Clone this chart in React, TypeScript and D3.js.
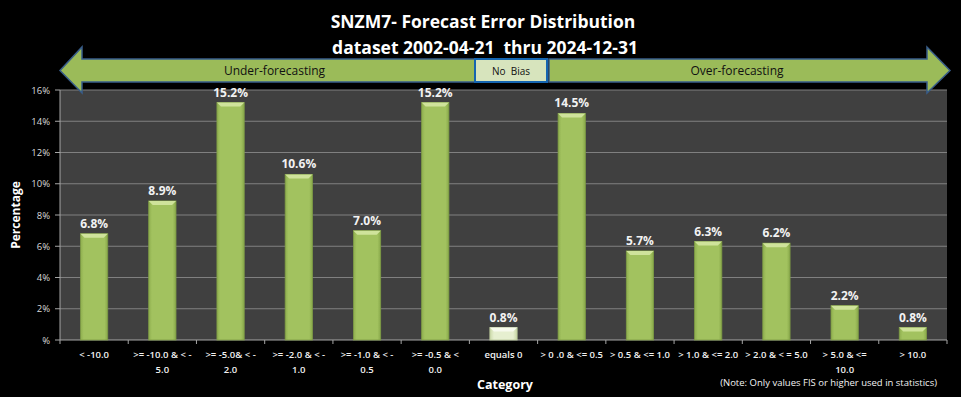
import React from "react";
import * as d3 from "d3";

const categoryLines: string[][] = [
  ["< -10.0"],
  [">= -10.0 & < -", "5.0"],
  [">= -5.0& < -", "2.0"],
  [">= -2.0 & < -", "1.0"],
  [">= -1.0 & < -", "0.5"],
  [">= -0.5 & <", "0.0"],
  ["equals 0"],
  ["> 0 .0 & <= 0.5"],
  ["> 0.5 & <= 1.0"],
  ["> 1.0 & <= 2.0"],
  ["> 2.0 & < = 5.0"],
  ["> 5.0 & <=", "10.0"],
  ["> 10.0"],
];
const percentValues: number[] = [6.8, 8.9, 15.2, 10.6, 7.0, 15.2, 0.8, 14.5, 5.7, 6.3, 6.2, 2.2, 0.8];
const yTicks: number[] = [0, 2, 4, 6, 8, 10, 12, 14, 16];
const titleLines: string[] = ["SNZM7- Forecast Error Distribution", "dataset 2002-04-21  thru 2024-12-31"];
const biasLabels: string[] = ["Under-forecasting", "No  Bias", "Over-forecasting"];
const noteText = "(Note: Only values FIS or higher used in statistics)";

const W = 961;
const H = 397;
const plot = { left: 60, right: 947, top: 90, bottom: 340 };
const FONT = "'Open Sans', 'Noto Sans', sans-serif";

export default function App() {
  const idx = categoryLines.map((_, i) => String(i));
  const x = d3
    .scaleBand<string>()
    .domain(idx)
    .range([plot.left, plot.right])
    .paddingInner(0.6)
    .paddingOuter(0.3);
  const y = d3.scaleLinear().domain([0, 16]).range([plot.bottom, plot.top]);
  const step = x.step();
  const bw = x.bandwidth();

  const shaftTop = 59;
  const shaftBot = 82;
  const headTop = 47;
  const headBot = 93;
  const midY = (shaftTop + shaftBot) / 2;
  const leftTip = 60;
  const leftHeadBase = 82;
  const noBiasL = 475;
  const noBiasR = 547;
  const rightHeadBase = 927;
  const rightTip = 950;

  const leftArrow = `M${leftTip},${midY} L${leftHeadBase},${headTop} L${leftHeadBase},${shaftTop} L${noBiasL},${shaftTop} L${noBiasL},${shaftBot} L${leftHeadBase},${shaftBot} L${leftHeadBase},${headBot} Z`;
  const rightArrow = `M${rightTip},${midY} L${rightHeadBase},${headTop} L${rightHeadBase},${shaftTop} L${noBiasR + 2},${shaftTop} L${noBiasR + 2},${shaftBot} L${rightHeadBase},${shaftBot} L${rightHeadBase},${headBot} Z`;

  const pre = { whiteSpace: "pre" as const };

  return (
    <svg
      width={W}
      height={H}
      viewBox={`0 0 ${W} ${H}`}
      style={{ position: "absolute", left: 0, top: 0, display: "block", background: "#000" }}
      fontFamily={FONT}
    >
      <defs>
        <linearGradient id="barG" x1="0" x2="1" y1="0" y2="0">
          <stop offset="0" stopColor="#8EAE4E" />
          <stop offset="0.12" stopColor="#A2C25F" />
          <stop offset="0.88" stopColor="#A2C25F" />
          <stop offset="1" stopColor="#88A84A" />
        </linearGradient>
        <linearGradient id="paleG" x1="0" x2="1" y1="0" y2="0">
          <stop offset="0" stopColor="#CBD9A8" />
          <stop offset="0.15" stopColor="#E6EFD0" />
          <stop offset="0.85" stopColor="#E6EFD0" />
          <stop offset="1" stopColor="#C6D5A2" />
        </linearGradient>
      </defs>
      <rect x={0} y={0} width={W} height={H} fill="#000" />

      <rect x={plot.left} y={plot.top} width={plot.right - plot.left} height={plot.bottom - plot.top} fill="#404040" />
      {yTicks.map((t) => (
        <g key={t}>
          {t > 0 && (
            <line x1={plot.left} x2={plot.right} y1={y(t)} y2={y(t)} stroke="#808080" strokeWidth={1.2} />
          )}
          <line x1={plot.left - 5} x2={plot.left} y1={y(t)} y2={y(t)} stroke="#A6A6A6" strokeWidth={1} />
          <text x={50} y={y(t) + 3.5} textAnchor="end" fontSize={9.5} fill="#D9D9D9">
            {t === 0 ? "%" : `${t}%`}
          </text>
        </g>
      ))}
      <line x1={plot.left} x2={plot.left} y1={plot.top} y2={plot.bottom} stroke="#A6A6A6" strokeWidth={1} />
      <line x1={plot.left} x2={plot.right} y1={plot.bottom} y2={plot.bottom} stroke="#A6A6A6" strokeWidth={1.2} />
      {d3.range(categoryLines.length + 1).map((i) => (
        <line
          key={i}
          x1={plot.left + i * step}
          x2={plot.left + i * step}
          y1={plot.bottom}
          y2={plot.bottom + 4}
          stroke="#A6A6A6"
          strokeWidth={1}
        />
      ))}

      {percentValues.map((v, i) => {
        const bx = x(String(i)) as number;
        const by = y(v);
        const bh = plot.bottom - by;
        const pale = i === 6;
        const bev = Math.min(4, bh / 2);
        return (
          <g key={i}>
            <rect x={bx} y={by} width={bw} height={bh} fill={pale ? "url(#paleG)" : "url(#barG)"} stroke={pale ? "#B8C79A" : "#7E9C45"} strokeWidth={0.8} />
            <path
              d={`M${bx},${by} L${bx + bw},${by} L${bx + bw - 4},${by + bev} L${bx + 4},${by + bev} Z`}
              fill={pale ? "#F7FAEE" : "#CFE39B"}
            />
            <text x={bx + bw / 2} y={by - 6} textAnchor="middle" fontSize={12} fontWeight={700} fill="#F2F2F2">
              {`${v.toFixed(1)}%`}
            </text>
          </g>
        );
      })}

      {categoryLines.map((lines, i) => {
        const cx = (x(String(i)) as number) + bw / 2;
        return (
          <text key={i} x={cx} y={358} textAnchor="middle" fontSize={9.5} fontWeight={600} fill="#F2F2F2" style={pre}>
            {lines.map((l, j) => (
              <tspan key={j} x={cx} dy={j === 0 ? 0 : 14.5}>
                {l}
              </tspan>
            ))}
          </text>
        );
      })}

      <path d={leftArrow} fill="#9BBB59" stroke="#385D8A" strokeWidth={1.5} />
      <path d={rightArrow} fill="#9BBB59" stroke="#385D8A" strokeWidth={1.5} />
      <rect x={noBiasL} y={shaftTop} width={noBiasR - noBiasL} height={shaftBot - shaftTop} fill="#D7E4BD" stroke="#1565B0" strokeWidth={2} />
      <text x={(leftHeadBase + noBiasL) / 2 - 4} y={midY + 4.5} textAnchor="middle" fontSize={12} fill="#111">
        {biasLabels[0]}
      </text>
      <text x={(noBiasL + noBiasR) / 2} y={midY + 4} textAnchor="middle" fontSize={10} fill="#111" style={pre}>
        {biasLabels[1]}
      </text>
      <text x={(noBiasR + rightHeadBase) / 2} y={midY + 4.5} textAnchor="middle" fontSize={12} fill="#111">
        {biasLabels[2]}
      </text>

      <text x={483} y={28} textAnchor="middle" fontSize={17.5} fontWeight={700} fill="#fff" style={pre}>
        {titleLines[0]}
      </text>
      <text x={485} y={54} textAnchor="middle" fontSize={17.5} fontWeight={700} fill="#fff" style={pre}>
        {titleLines[1]}
      </text>

      <text transform={`translate(20,${(plot.top + plot.bottom) / 2}) rotate(-90)`} textAnchor="middle" fontSize={12} fontWeight={700} fill="#fff">
        Percentage
      </text>
      <text x={505} y={389} textAnchor="middle" fontSize={12.5} fontWeight={700} fill="#fff">
        Category
      </text>
      <text x={937} y={386} textAnchor="end" fontSize={9.5} fill="#F2F2F2">
        {noteText}
      </text>
    </svg>
  );
}
